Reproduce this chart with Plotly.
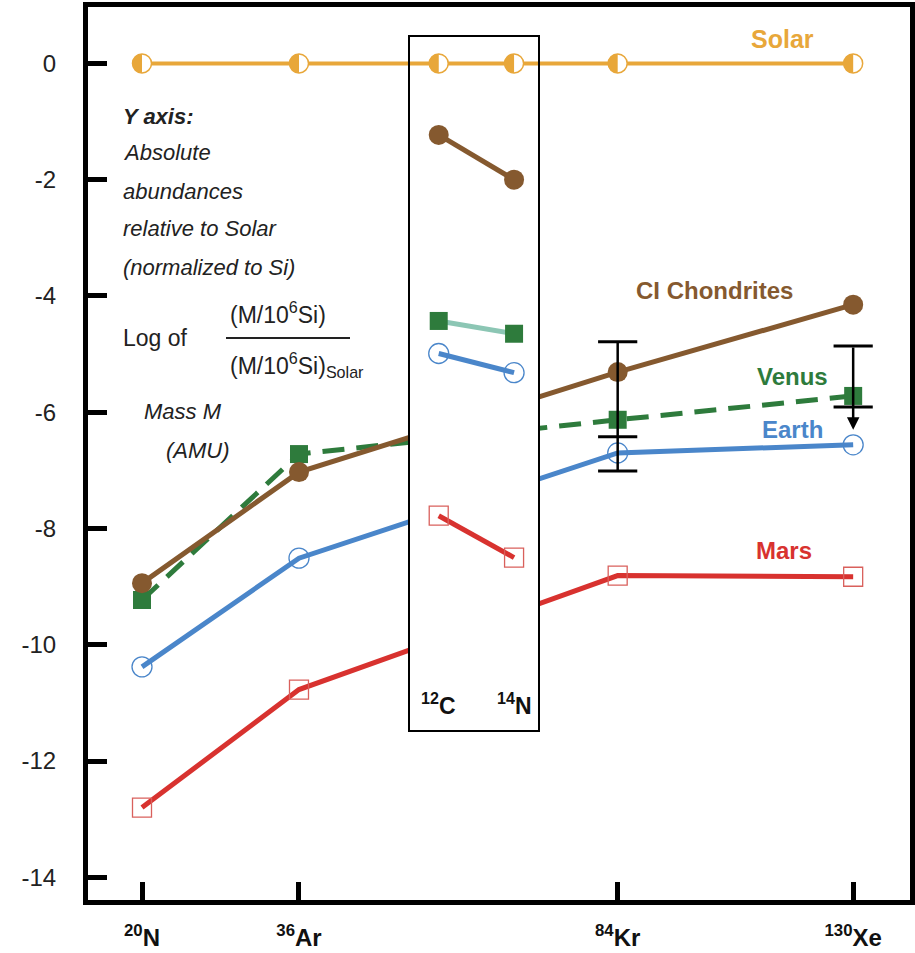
import plotly.graph_objects as go

# ---------------- data ----------------
main_labels = ["<b><sup>20</sup>N</b>", "<b><sup>36</sup>Ar</b>",
               "<b><sup>84</sup>Kr</b>", "<b><sup>130</sup>Xe</b>"]
main_pos = [0.0, 1.0, 3.03, 4.53]          # positions of 20N, 36Ar, 84Kr, 130Xe on the x axis
inset_labels = ["<b><sup>12</sup>C</b>", "<b><sup>14</sup>N</b>"]
inset_pos = [1.89, 2.37]                   # positions of 12C, 14N

solar_pos = [0.0, 1.0, 1.89, 2.37, 3.03, 4.53]
solar_vals = [0, 0, 0, 0, 0, 0]

ci_main = [-8.94, -7.03, -5.31, -4.15]
ci_inset = [-1.23, -2.00]
venus_main = [-9.23, -6.72, -6.13, -5.72]
venus_inset = [-4.43, -4.65]
earth_main = [-10.38, -8.51, -6.70, -6.56]
earth_inset = [-4.99, -5.32]
mars_main = [-12.80, -10.77, -8.81, -8.83]
mars_inset = [-7.78, -8.50]

kr_err_caps = [-4.79, -6.42, -7.01]   # Kr error bar: top, middle cap, bottom
xe_err_caps = [-4.86, -5.91]          # Xe upper-limit bar caps
xe_err_tip = -6.30                    # Xe arrow tip

y_ticks = [0, -2, -4, -6, -8, -10, -12, -14]
y_tick_text = ["0", "-2", "-4", "-6", "-8", "-10", "-12", "-14"]

# ---------------- styles ----------------
ORANGE = "#E8A73A"
BROWN = "#85592F"
GREEN = "#2E7B3C"
TEAL = "#8CC6B4"
BLUE = "#4A86CA"
RED = "#D8322F"
RED_LIGHT = "#D9605C"
SANS = "Liberation Sans, Arial, Helvetica, sans-serif"

W, H = 915, 953
ML, MR, MT, MB = 88, 5, 7, 53
PW, PH = W - ML - MR, H - MT - MB
xr = [-0.344, 4.892]
yr = [-14.39, 0.97]


def px(xp, yp):
    return (xp - ML) / PW, (H - MB - yp) / PH


# inset box in pixels -> domain and matching ranges
bx0, by0 = px(410, 730)
bx1, by1 = px(538, 37)
x2r = [xr[0] + bx0 * (xr[1] - xr[0]), xr[0] + bx1 * (xr[1] - xr[0])]
y2r = [yr[0] + by0 * (yr[1] - yr[0]), yr[0] + by1 * (yr[1] - yr[0])]

fig = go.Figure()


def add_series(xs, ys, line_color, sym, size, mline, dash, xa, ya, mcolor, mfill):
    fig.add_trace(go.Scatter(
        x=xs, y=ys, mode="lines+markers", xaxis=xa, yaxis=ya,
        line=dict(color=line_color, width=5, dash=dash),
        marker=dict(symbol=sym, size=size, color=mfill,
                    line=dict(color=mcolor, width=mline)),
        showlegend=False, hoverinfo="skip"))


CLEAR = "rgba(255,255,255,0)"
# main subplot
add_series(main_pos, mars_main, RED, "square", 19, 1.3, "solid", "x", "y", RED_LIGHT, CLEAR)
add_series(main_pos, earth_main, BLUE, "circle", 20, 1.3, "solid", "x", "y", BLUE, CLEAR)
add_series(main_pos, venus_main, GREEN, "square", 18, 0, "22px,12px", "x", "y", GREEN, GREEN)
add_series(main_pos, ci_main, BROWN, "circle", 20, 0, "solid", "x", "y", BROWN, BROWN)
fig.add_trace(go.Scatter(
    x=solar_pos, y=solar_vals, mode="lines+markers", xaxis="x", yaxis="y",
    line=dict(color=ORANGE, width=4),
    marker=dict(symbol="circle", size=19, color="white", line=dict(color=ORANGE, width=1.5)),
    showlegend=False, hoverinfo="skip"))

# error bars (Kr)
fig.add_trace(go.Scatter(
    x=[main_pos[2], main_pos[2]], y=[kr_err_caps[0], kr_err_caps[2]], mode="lines",
    line=dict(color="black", width=2.5), showlegend=False, hoverinfo="skip"))
fig.add_trace(go.Scatter(
    x=[main_pos[2]] * 3, y=kr_err_caps, mode="markers",
    marker=dict(symbol="line-ew", size=28, line=dict(color="black", width=3)),
    showlegend=False, hoverinfo="skip"))
fig.add_trace(go.Scatter(
    x=[main_pos[3]] * 2, y=xe_err_caps, mode="markers",
    marker=dict(symbol="line-ew", size=28, line=dict(color="black", width=3)),
    showlegend=False, hoverinfo="skip"))

# inset subplot
add_series(inset_pos, mars_inset, RED, "square", 19, 1.3, "solid", "x2", "y2", RED_LIGHT, CLEAR)
add_series(inset_pos, earth_inset, BLUE, "circle", 20, 1.3, "solid", "x2", "y2", BLUE, CLEAR)
add_series(inset_pos, venus_inset, TEAL, "square", 18, 0, "solid", "x2", "y2", GREEN, GREEN)
add_series(inset_pos, ci_inset, BROWN, "circle", 20, 0, "solid", "x2", "y2", BROWN, BROWN)
fig.add_trace(go.Scatter(
    x=solar_pos, y=solar_vals, mode="lines+markers", xaxis="x2", yaxis="y2",
    line=dict(color=ORANGE, width=4),
    marker=dict(symbol="circle", size=19, color="white", line=dict(color=ORANGE, width=1.5)),
    showlegend=False, hoverinfo="skip"))

# half-filled solar markers (left half filled)
r = 9.5
k = 0.5523 * r
half = f"M 0,{-r} C {-k},{-r} {-r},{-k} {-r},0 C {-r},{k} {-k},{r} 0,{r} Z"
shapes = []
for xv, yv in zip(solar_pos, solar_vals):
    shapes.append(dict(type="path", xref="x", yref="y", xsizemode="pixel", ysizemode="pixel",
                       xanchor=xv, yanchor=yv, path=half, fillcolor=ORANGE,
                       line=dict(width=0), layer="above"))

# fraction bar for y-axis description
fx0, fy = px(226, 338)
fx1, _ = px(350, 338)
shapes.append(dict(type="line", xref="paper", yref="paper", x0=fx0, x1=fx1, y0=fy, y1=fy,
                   line=dict(color="#222", width=2)))

annotations = []
TXT = "#222"


def note(text, xp, yp, size=22, color=TXT, xanchor="left", family=SANS):
    ax, ay = px(xp, yp)
    annotations.append(dict(text=text, x=ax, y=ay, xref="paper", yref="paper",
                            xanchor=xanchor, yanchor="middle", showarrow=False,
                            font=dict(size=size, color=color, family=family)))


note("<b><i>Y axis:</i></b>", 121, 117)
note("<i>Absolute</i>", 121, 153)
note("<i>abundances</i>", 121, 191)
note("<i>relative to Solar</i>", 121, 229)
note("<i>(normalized to Si)</i>", 121, 267)
note("Log of", 121, 338, size=23)
note("(M/10<sup>6</sup>Si)", 228, 313, size=23)
note("(M/10<sup>6</sup>Si)<sub>Solar</sub>", 228, 365, size=23)
note("<i>Mass M</i>", 142, 411)
note("<i>(AMU)</i>", 164, 450)

# series labels
note("<b>Solar</b>", 782, 39, size=25, color=ORANGE, xanchor="center")
note("<b>CI Chondrites</b>", 714, 290, size=24, color=BROWN, xanchor="center")
note("<b>Venus</b>", 792, 376, size=24, color=GREEN, xanchor="center")
note("<b>Earth</b>", 792, 429, size=24, color=BLUE, xanchor="center")
note("<b>Mars</b>", 784, 550, size=24, color=RED, xanchor="center")

# inset tick labels
_, ly = px(0, 704)
for lab, xv in zip(inset_labels, inset_pos):
    annotations.append(dict(text=lab, x=xv, y=ly, xref="x2", yref="paper", showarrow=False,
                            xanchor="center", yanchor="middle",
                            font=dict(size=23, color="#111", family=SANS)))

# Xe upper-limit arrow
annotations.append(dict(x=main_pos[3], y=xe_err_tip, ax=main_pos[3], ay=xe_err_caps[0],
                        xref="x", yref="y", axref="x", ayref="y", text="", showarrow=True,
                        arrowhead=2, arrowsize=1, arrowwidth=2.5, arrowcolor="black", standoff=0))

fig.update_layout(
    width=W, height=H,
    margin=dict(l=ML, r=MR, t=MT, b=MB, autoexpand=False),
    paper_bgcolor="white", plot_bgcolor="white",
    showlegend=False,
    font=dict(family=SANS, color=TXT),
    xaxis=dict(range=xr, domain=[0, 1], tickmode="array", tickvals=main_pos, ticktext=main_labels,
               ticks="inside", ticklen=18, tickwidth=5, tickcolor="black",
               showline=True, linewidth=5, linecolor="black", mirror=True, automargin=False,
               showgrid=False, zeroline=False, ticklabelstandoff=12,
               tickfont=dict(size=24, color="#111", family=SANS)),
    yaxis=dict(range=yr, domain=[0, 1], tickmode="array", tickvals=y_ticks, ticktext=y_tick_text,
               ticks="inside", ticklen=19, tickwidth=5, tickcolor="black",
               showline=True, linewidth=5, linecolor="black", mirror=True, automargin=False,
               showgrid=False, zeroline=False, ticklabelstandoff=22,
               tickfont=dict(size=24, color=TXT, family=SANS)),
    xaxis2=dict(range=x2r, domain=[bx0, bx1], anchor="y2", showline=True, mirror=True,
                linewidth=1.5, linecolor="black", ticks="", showticklabels=False,
                showgrid=False, zeroline=False),
    yaxis2=dict(range=y2r, domain=[by0, by1], anchor="x2", showline=True, mirror=True,
                linewidth=1.5, linecolor="black", ticks="", showticklabels=False,
                showgrid=False, zeroline=False),
    shapes=shapes,
    annotations=annotations,
)

fig.write_html("out.html")
